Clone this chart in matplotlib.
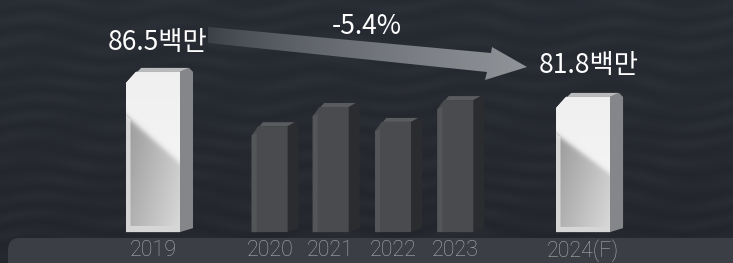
import matplotlib.pyplot as plt
import numpy as np
from matplotlib.patches import Polygon, FancyBboxPatch

plt.rcParams['font.family'] = ['Noto Sans CJK KR', 'DejaVu Sans']

# data
years = ['2019', '2020', '2021', '2022', '2023', '2024(F)']
values = [86.5, 76.3, 79.9, 77.1, 81.2, 81.8]
value_labels = ['86.5백만', '', '', '', '', '81.8백만']
change_label = '-5.4%'

# layout
xpos = [0, 1.89, 2.88, 3.89, 4.9, 6.97]
highlight = [True, False, False, False, False, True]
base = 56.4

W, H = 733, 263
fig = plt.figure(figsize=(W / 100, H / 100), dpi=100)
fig.patch.set_facecolor('#262a31')

# pixel-space layer for background decorations
bg = fig.add_axes([0, 0, 1, 1])
bg.set_xlim(0, W)
bg.set_ylim(H, 0)
bg.axis('off')

# background with faint wavy streaks
yy, xx = np.mgrid[0:H:1.0, 0:W:1.0]
tex = 0.5 + 0.5 * np.sin(yy / 3.1 + 1.7 * np.sin(xx / 23.0) + 0.8 * np.sin(xx / 61.0 + yy / 17.0))
tex = tex * (0.5 + 0.5 * np.sin(xx / 37.0 + yy / 29.0) ** 2)
shade = (yy / H)[..., None]
col_a = np.array([0.150, 0.165, 0.195])
col_b = np.array([0.135, 0.145, 0.170])
bg_rgb = col_a * (1 - shade) + col_b * shade + 0.022 * tex[..., None]
bg.imshow(bg_rgb.clip(0, 1), extent=(0, W, H, 0), aspect='auto', zorder=0)

# label band
band = FancyBboxPatch((8, 238), W + 20, 40, boxstyle='round,pad=0,rounding_size=12',
                      fc='#3e4248', ec='none', alpha=0.9, zorder=1)
bg.add_patch(band)

# arrow with gradient
arrow = Polygon([(208, 27), (491, 53), (492, 47), (527, 67), (485, 80), (487, 72), (208, 43)],
                closed=True, fc='none', ec='none')
bg.add_patch(arrow)
g = np.linspace(0, 1, 200)[None, :]
c0 = np.array([0.20, 0.22, 0.25])
c1 = np.array([0.57, 0.58, 0.60])
arr_rgb = c0 + (c1 - c0) * (g[..., None] ** 0.65)
im = bg.imshow(np.repeat(arr_rgb, 2, axis=0), extent=(200, 530, 85, 20), aspect='auto', zorder=2)
im.set_clip_path(arrow)
bg.set_xlim(0, W)
bg.set_ylim(H, 0)

# data layer
ax = fig.add_axes([0, 0, 1, 1])
ax.set_xlim(-2.48, 9.40)
ax.set_ylim(50.6, 100)
ax.axis('off')
ax.patch.set_alpha(0)

px = (9.40 + 2.48) / W
py = (100 - 50.6) / H


def white_face(n=160, m=60):
    t = np.linspace(1, 0, n)[:, None]
    u = np.linspace(0, 1, m)[None, :]
    edge = 0.72 - 0.29 * u
    k = 1 / (1 + np.exp(-(t - edge) / 0.012))
    top = 0.97 - 0.03 * t
    low = 0.60 + 0.20 * u + 0.12 * (edge - t).clip(0, 1)
    frame = ((u < 0.08) | (t < 0.035)) & (t < edge)
    low = np.where(frame, 0.84, low)
    v = k * top + (1 - k) * low
    return np.dstack([v, v, v])


def draw_bar(x, v, hi):
    if hi:
        fw, sw, c, cy = 54 * px, 13 * px, 10 * px, 11 * py
        fc, sc, tc = '#eeeeee', '#85868a', '#b9babc'
    else:
        fw, sw, c, cy = 36 * px, 11 * px, 7 * px, 9 * py
        fc, sc, tc = '#4a4b4e', '#2b2c2f', '#5a5b5e'
    dy = 4 * py
    x0, x1 = x - fw / 2, x + fw / 2
    side = Polygon([(x1, base), (x1 + sw, base + dy), (x1 + sw, v + dy - 4 * py),
                    (x1 + sw - 4 * px, v + dy), (x1, v)], closed=True, fc=sc, ec='none', zorder=3)
    top = Polygon([(x0, v - cy), (x0 + c, v), (x1, v), (x1 + sw - 4 * px, v + dy),
                   (x0 + c + sw * 0.4, v + dy), (x0 + sw * 0.3, v - cy + dy)],
                  closed=True, fc=tc, ec='none', zorder=3)
    front = Polygon([(x0, base), (x1, base), (x1, v), (x0 + c, v), (x0, v - cy)],
                    closed=True, fc=fc, ec='none', zorder=4)
    ax.add_patch(side)
    ax.add_patch(top)
    ax.add_patch(front)
    if hi:
        im = ax.imshow(white_face(), extent=(x0, x1, base, v), aspect='auto', zorder=5)
        im.set_clip_path(front)
    else:
        strip = Polygon([(x0, base), (x0 + 5 * px, base), (x0 + 5 * px, v - cy + 2 * py), (x0, v - cy)],
                        closed=True, fc='#545558', ec='none', zorder=5)
        ax.add_patch(strip)


for x, v, hi in zip(xpos, values, highlight):
    draw_bar(x, v, hi)

ax.set_xlim(-2.48, 9.40)
ax.set_ylim(50.6, 100)

# year labels in the band
for x, yr in zip(xpos, years):
    ax.text(x, 100 - 251 * py, yr, ha='center', va='center', fontsize=15.5,
            color='#a7a9ad', family=['Roboto', 'DejaVu Sans'], fontweight='light', zorder=6)

# value labels
ax.text(xpos[0] + 5 * px, 100 - 42 * py, value_labels[0], ha='center', va='center',
        fontsize=19, color='white', zorder=6)
ax.text(xpos[5] + 6 * px, 100 - 66 * py, value_labels[5], ha='center', va='center',
        fontsize=19, color='white', zorder=6)
ax.text(3.47, 100 - 27 * py, change_label, ha='center', va='center',
        fontsize=19, color='white', zorder=6)

fig.savefig('out.png', dpi=100, facecolor=fig.get_facecolor())
